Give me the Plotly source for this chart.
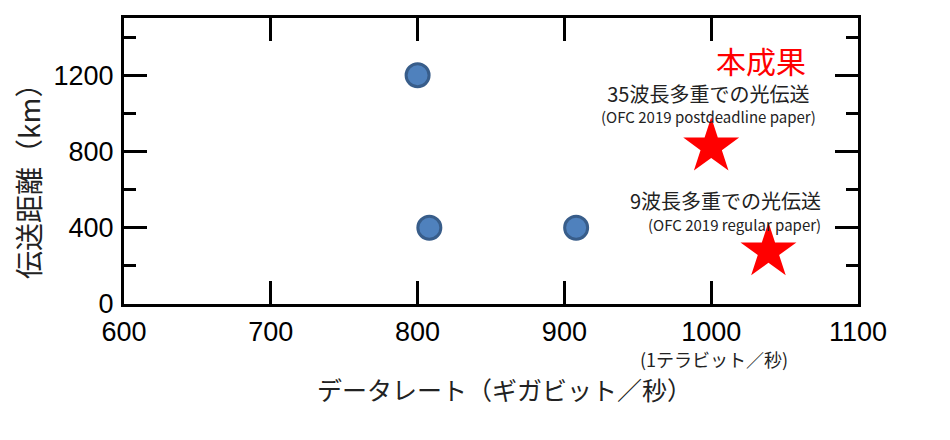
import plotly.graph_objects as go

# ==================== データ ====================
prior_rate = [800, 808, 908]        # ギガビット/秒
prior_dist = [1200, 400, 400]       # km
this_rate = [1000, 1039]
this_dist = [825, 275]
this_labels = ["35波長多重での光伝送", "9波長多重での光伝送"]
this_papers = ["(OFC 2019 postdeadline paper)", "(OFC 2019 regular paper)"]

x_ticks = [600, 700, 800, 900, 1000, 1100]
y_ticks = [0, 400, 800, 1200]

JP_FONT = "Noto Sans CJK JP"
NUM_FONT = "Liberation Sans"
TEXT_COLOR = "#222222"

fig = go.Figure()

# 従来の結果（青丸）
fig.add_trace(go.Scatter(
    x=prior_rate, y=prior_dist, mode="markers",
    marker=dict(size=23, color="#4F81BD", line=dict(color="#385D8A", width=3)),
    showlegend=False,
))

# 本成果（赤い星）
fig.add_trace(go.Scatter(
    x=this_rate, y=this_dist, mode="markers",
    marker=dict(symbol="star", size=42, color="#FF0000", line=dict(width=0)),
    showlegend=False,
))

axis_common = dict(
    showline=True, linecolor="black", linewidth=3, mirror="ticks",
    ticks="inside", tickcolor="black", tickwidth=3, ticklen=23,
    showgrid=False, zeroline=False,
    tickfont=dict(family=NUM_FONT, size=27, color="black"),
)

fig.update_xaxes(range=[600, 1100], tickvals=x_ticks, ticklabelstandoff=2, **axis_common)
fig.update_yaxes(range=[0, 1500], tickvals=y_ticks, ticklabelstandoff=2,
                 minor=dict(dtick=200, ticks="inside", ticklen=12, tickwidth=3, tickcolor="black"),
                 **axis_common)


def two_line(main, sub):
    # 1行目は大きく、2行目（論文名）は小さく
    return f"<span style='font-size:20px'>{main}</span><br><span style='font-size:15px'>{sub}</span>"


annotations = [
    dict(x=1034, y=1282, text="本成果", showarrow=False, xanchor="center", yanchor="middle",
         font=dict(family=JP_FONT, size=30, color="#FF0000")),
    dict(x=998, y=1056, text=two_line(this_labels[0], this_papers[0]), showarrow=False,
         xanchor="center", yanchor="middle", align="center",
         font=dict(family=JP_FONT, size=16, color=TEXT_COLOR)),
    dict(x=1076, y=492, text=two_line(this_labels[1], this_papers[1]), showarrow=False,
         xanchor="right", yanchor="middle", align="right",
         font=dict(family=JP_FONT, size=17, color=TEXT_COLOR)),
    # 1000 の下の注記
    dict(x=1002, y=0, yref="paper", yshift=-55, text="(1テラビット／秒)", showarrow=False,
         xanchor="center", yanchor="middle",
         font=dict(family=JP_FONT, size=18, color=TEXT_COLOR)),
    # 軸タイトル
    dict(x=0.505, xref="paper", xshift=10, y=0, yref="paper", yshift=-85,
         text="データレート（ギガビット／秒）",
         showarrow=False, xanchor="center", yanchor="middle",
         font=dict(family=JP_FONT, size=25, color=TEXT_COLOR)),
    dict(x=0, xref="paper", xshift=-96, y=0.5, yref="paper", yshift=-14, text="伝送距離（km）",
         textangle=-90, showarrow=False, xanchor="center", yanchor="middle",
         font=dict(family=JP_FONT, size=28, color=TEXT_COLOR)),
]

# ページ本体の 8px 余白を考慮して少し小さめに
fig.update_layout(
    width=942, height=432,
    margin=dict(l=116, r=92, t=7, b=136),
    plot_bgcolor="white", paper_bgcolor="white",
    annotations=annotations,
)

fig.write_html("out.html")
